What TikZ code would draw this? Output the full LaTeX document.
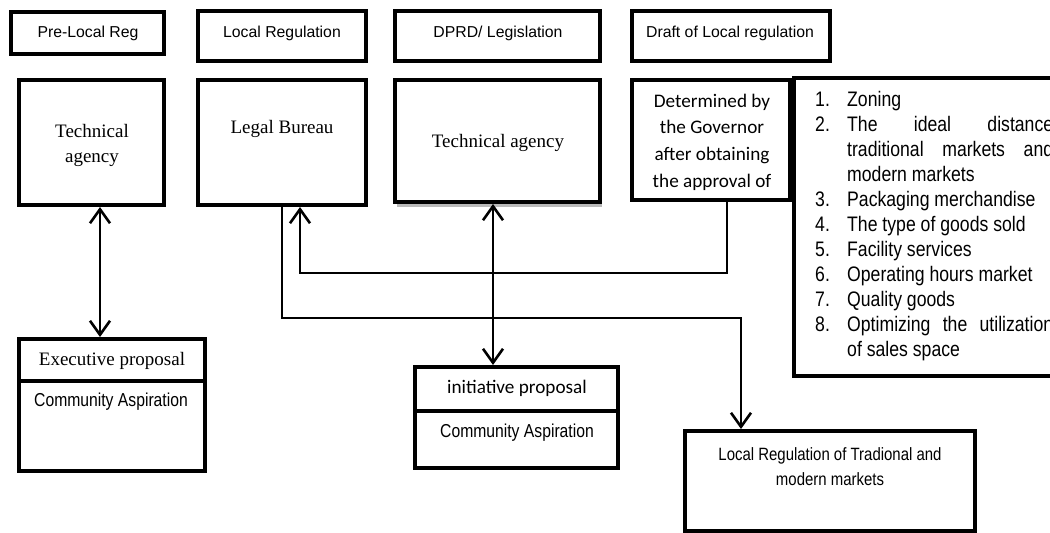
\documentclass[tikz,border=0pt]{standalone}
\usepackage{fontspec}
\setmainfont{Liberation Serif}
\newfontfamily\arialfont{Liberation Sans}
\newfontfamily\narrowfont[FakeStretch=0.84]{Liberation Sans}
\newfontfamily\calibrifont{Carlito}
\newfontfamily\timesfont{Liberation Serif}
\usetikzlibrary{arrows.meta,shadows}
\begin{document}
\begin{tikzpicture}[x=1pt,y=-1pt,
  box/.style={draw=black, line width=4pt, fill=white, inner sep=0pt, rectangle},
  txt/.style={inner sep=0pt, anchor=base},
  conn/.style={line width=2.6pt, draw=black},
  endtip/.style={-{Straight Barb[length=14pt,width=20pt]}},
  bothtip/.style={{Straight Barb[length=14pt,width=20pt]}-{Straight Barb[length=14pt,width=20pt]}},
  toplab/.style={txt, font=\arialfont\fontsize{15.8}{19}\selectfont},
  serif/.style={txt, font=\timesfont\fontsize{19}{25}\selectfont}
]
\useasboundingbox (0,0) rectangle (1050,533);
\fill[white] (0,0) rectangle (1050,533);
\clip (0,0) rectangle (1050,533);

% top header boxes
\node[box, minimum width=153pt, minimum height=42pt] (prelocal) at (87.5,33) {};
\node[box, minimum width=168pt, minimum height=50pt] (localreg) at (282,36) {};
\node[box, minimum width=205pt, minimum height=50pt] (dprd) at (497.5,36) {};
\node[box, minimum width=198pt, minimum height=50pt] (draft) at (731,36) {};
\node[toplab] (tprelocal) at (88,37) {Pre-Local Reg};
\node[toplab] (tlocalreg) at (282,37) {Local Regulation};
\node[toplab] (tdprd) at (498,37) {DPRD/ Legislation};
\node[toplab] (tdraft) at (730,37) {Draft of Local regulation};

% second row
\node[box, minimum width=145pt, minimum height=125pt] (tech1) at (91.5,142.5) {};
\node[box, minimum width=168pt, minimum height=125pt] (legal) at (282,142.5) {};
\node[box, minimum width=205pt, minimum height=122pt,
      drop shadow={shadow xshift=2pt, shadow yshift=-5pt, fill=gray!55, opacity=1}] (tech2) at (497.5,141) {};
\node[box, minimum width=268pt, minimum height=298pt] (list) at (928,227) {};
\node[box, minimum width=158pt, minimum height=120pt] (determ) at (711,140) {};

\node[txt] (ttech1) at (92,137) {\parbox[t]{140pt}{\centering\timesfont\fontsize{19}{25}\selectfont Technical\\agency}};
\node[serif] (tlegal) at (282,133) {Legal Bureau};
\node[serif] (ttech2) at (498,147) {Technical agency};
\node[txt] (tdeterm) at (712,107) {\parbox[t]{156pt}{\centering\calibrifont\fontsize{19.2}{26.7}\selectfont Determined by\\the Governor\\after obtaining\\the approval of}};

\node[txt, anchor=base west] (tlist) at (815,106.7) {\parbox[t]{260pt}{\narrowfont\fontsize{21}{25}\selectfont
\makebox[32pt][l]{1.}Zoning\\
\makebox[32pt][l]{2.}\makebox[206pt][s]{The ideal distance}\\
\hspace*{32pt}\makebox[206pt][s]{traditional markets and}\\
\hspace*{32pt}modern markets\\
\makebox[32pt][l]{3.}Packaging merchandise\\
\makebox[32pt][l]{4.}The type of goods sold\\
\makebox[32pt][l]{5.}Facility services\\
\makebox[32pt][l]{6.}Operating hours market\\
\makebox[32pt][l]{7.}Quality goods\\
\makebox[32pt][l]{8.}\makebox[206pt][s]{Optimizing the utilization}\\
\hspace*{32pt}of sales space}};

% lower boxes
\node[box, minimum width=186pt, minimum height=132pt] (exec) at (112,405) {};
\draw[line width=4pt] (exec.west |- 0,381) -- (exec.east |- 0,381);
\node[serif] (texec) at (112,365) {Executive proposal};
\node[txt, font=\narrowfont\fontsize{18.7}{22}\selectfont] (tcomm1) at (111,406) {Community Aspiration};

\node[box, minimum width=203pt, minimum height=101pt] (init) at (516.5,417.5) {};
\draw[line width=4pt] (init.west |- 0,411) -- (init.east |- 0,411);
\node[txt, font=\calibrifont\fontsize{19.2}{23}\selectfont] (tinit) at (517,393) {initiative proposal};
\node[txt, font=\narrowfont\fontsize{18.7}{22}\selectfont] (tcomm2) at (517,437) {Community Aspiration};

\node[box, minimum width=290pt, minimum height=100pt] (markets) at (830,481) {};
\node[txt] (tmarkets) at (830,460) {\parbox[t]{280pt}{\centering\narrowfont\fontsize{17.8}{25}\selectfont Local Regulation of Tradional and\\modern markets}};

% connector columns
\coordinate (c1) at (100,0);
\coordinate (c2) at (493,0);
\coordinate (c3) at (741,318);
\coordinate (c4) at (727,273);
\coordinate (c5) at (300,273);

\draw[conn, bothtip] (tech1.south -| c1) -- (exec.north -| c1);
\draw[conn, endtip] (legal.south) |- (c3) -- (c3 |- markets.north);
\draw[conn, endtip] (c4 |- determ.south) -- (c4) -- (c5) -- (c5 |- legal.south);
\draw[conn, bothtip] (tech2.south -| c2) -- (init.north -| c2);
\end{tikzpicture}
\end{document}
